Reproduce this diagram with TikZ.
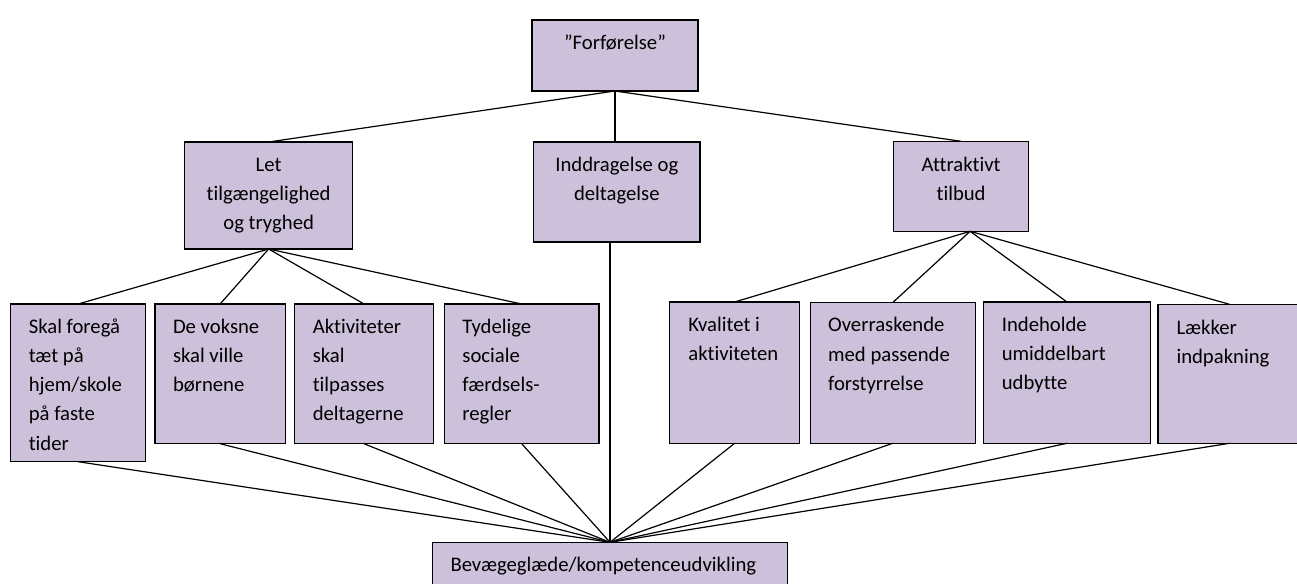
\documentclass[tikz,border=0pt]{standalone}
\usepackage{fontspec}
\setmainfont{Carlito}[RawFeature={-liga,-clig}]
\usetikzlibrary{calc}
\definecolor{boxfill}{HTML}{CCC0DA}
\begin{document}
\begin{tikzpicture}[x=1pt,y=-1pt,
  box/.style={draw=black, line width=1.2pt, fill=boxfill, inner sep=0pt, outer sep=0pt, anchor=north west},
  conn/.style={draw=black, line width=1.2pt},
  ltxt/.style={inner sep=0pt, outer sep=0pt, anchor=north west, align=left, font=\fontsize{20.7}{29.3}\selectfont},
  ctxt/.style={inner sep=0pt, outer sep=0pt, anchor=north, align=center, font=\fontsize{20.7}{29}\selectfont}]
\path[use as bounding box, clip] (0,0) rectangle (1297,583);
\fill[white] (0,0) rectangle (1297,583);

% boxes
\node[box, minimum width=166, minimum height=71] (T) at (532,20) {};
\node[box, minimum width=168.3, minimum height=107] (L) at (184.5,142) {};
\node[box, minimum width=166.4, minimum height=100] (I) at (533.6,142) {};
\node[box, minimum width=135.4, minimum height=90] (A) at (893.4,141.3) {};
\node[box, minimum width=134.7, minimum height=157.7] (b1) at (10.8,304) {};
\node[box, minimum width=130.2, minimum height=139.7] (b2) at (155,304) {};
\node[box, minimum width=138.4, minimum height=139.7] (b3) at (294.8,304) {};
\node[box, minimum width=154.6, minimum height=139.7] (b4) at (444.4,304) {};
\node[box, minimum width=129.6, minimum height=141.3] (b5) at (669.8,302) {};
\node[box, minimum width=165, minimum height=140.6] (b6) at (810.1,302.7) {};
\node[box, minimum width=166.3, minimum height=141.3] (b7) at (983.8,302) {};
\node[box, minimum width=143, minimum height=139] (b8) at (1158,304.3) {};
\node[box, minimum width=355, minimum height=60] (B) at (432.5,542.3) {};

% texts
\node[ctxt] (tT) at ($(T.north)+(0,9.5)$) {\strut”Forførelse”};
\node[ctxt] (tL) at ($(L.north)+(0,9.5)$) {\strut Let\\tilgængelighed\\og tryghed};
\node[ctxt] (tI) at ($(I.north)+(0,9.5)$) {\strut Inddragelse og\\deltagelse};
\node[ctxt] (tA) at ($(A.north)+(0,9.5)$) {\strut Attraktivt\\tilbud};
\node[ltxt] (t1) at ($(b1.north west)+(18,8.5)$) {\strut Skal foregå\\tæt på\\hjem/skole\\på faste\\tider};
\node[ltxt] (t2) at ($(b2.north west)+(18,8.5)$) {\strut De voksne\\skal ville\\børnene};
\node[ltxt] (t3) at ($(b3.north west)+(18,8.5)$) {\strut Aktiviteter\\skal\\tilpasses\\deltagerne};
\node[ltxt] (t4) at ($(b4.north west)+(18,8.5)$) {\strut Tydelige\\sociale\\færdsels-\\regler};
\node[ltxt] (t5) at ($(b5.north west)+(18.6,8.5)$) {\strut Kvalitet i\\aktiviteten};
\node[ltxt] (t6) at ($(b6.north west)+(18,8.5)$) {\strut Overraskende\\med passende\\forstyrrelse};
\node[ltxt] (t7) at ($(b7.north west)+(18,8.5)$) {\strut Indeholde\\umiddelbart\\udbytte};
\node[ltxt] (t8) at ($(b8.north west)+(18.5,9.5)$) {\strut Lækker\\indpakning};
\node[ltxt] (tB) at ($(B.north west)+(18,8.5)$) {\strut Bevægeglæde/kompetenceudvikling};

% connectors
\coordinate (Af) at ($(A.south)+(9,0)$);
\draw[conn] (T.south) -- (L.north);
\draw[conn] (T.south) -- (T.south |- I.north);
\draw[conn] (T.south) -- (A.north);
\foreach \c in {b1,b2,b3,b4} \draw[conn] (L.south) -- (\c.north);
\foreach \c in {b5,b6,b7,b8} \draw[conn] (Af) -- (\c.north);
\foreach \c in {b1,b2,b3,b4,b5,b6,b7,b8} \draw[conn] (\c.south) -- (B.north);
\draw[conn] (I.south -| B.north) -- (B.north);
\end{tikzpicture}
\end{document}
